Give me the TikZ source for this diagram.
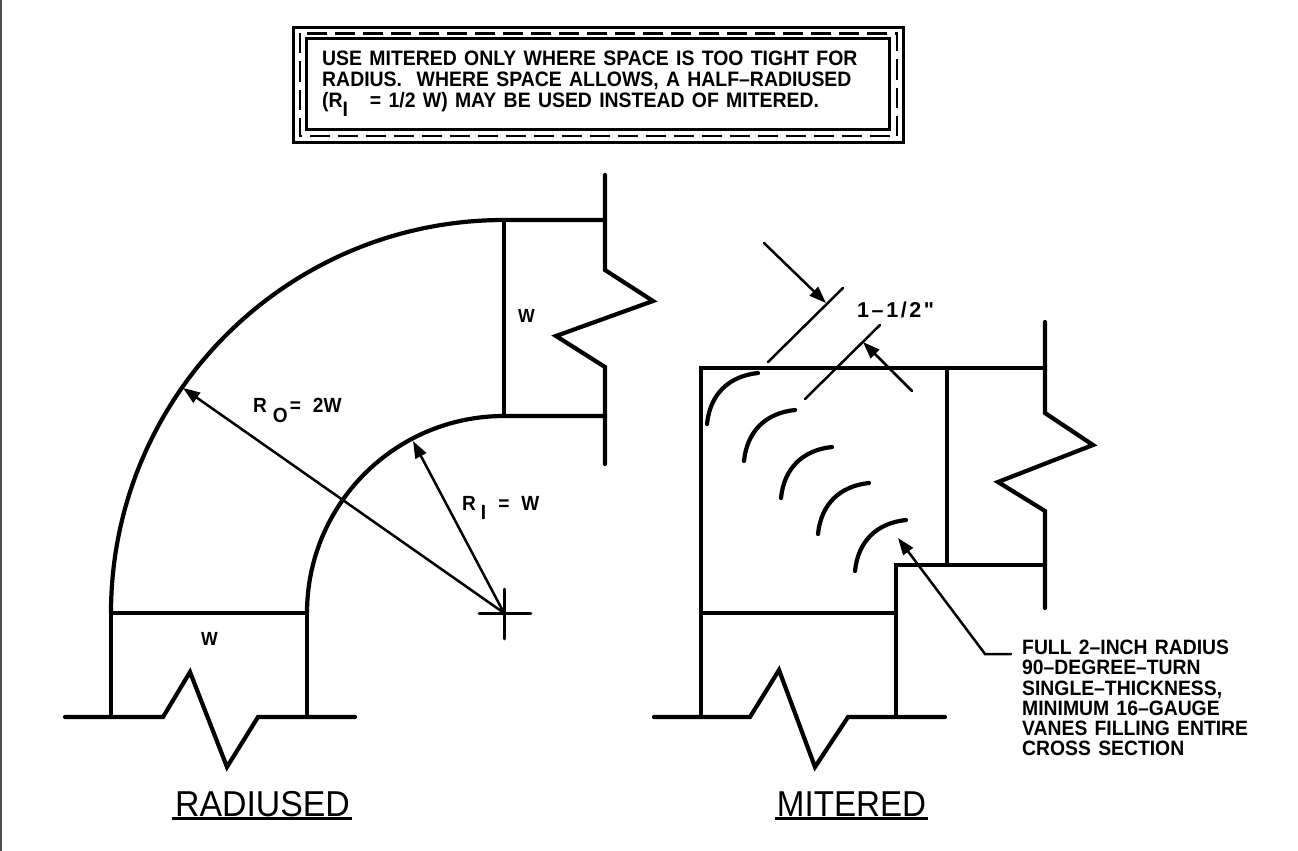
\documentclass[tikz,border=0pt]{standalone}
\usepackage{fontspec}
\setmainfont{Liberation Sans}
\newfontfamily\cadfont[UprightFont={* Bold},WordSpace=1.35,FakeStretch=0.93]{Liberation Sans}
\newfontfamily\cadwide[UprightFont={* Bold},LetterSpace=12]{Liberation Sans}
\newfontfamily\cadtitleA[FakeStretch=0.94]{Liberation Sans}
\newfontfamily\cadtitleB[FakeStretch=0.92]{Liberation Sans}
\usetikzlibrary{arrows.meta}
\tikzset{
  heavy/.style={line width=4.2pt,line cap=round,line join=miter},
  thin line/.style={line width=2.5pt,line cap=round},
  dim arrow/.style={thin line,-{Triangle[length=17pt,width=12pt]}},
  frame/.style={line width=3pt},
  label/.style={inner sep=0pt,align=left,font=\cadfont\fontsize{20.8}{20.2}\selectfont},
  small label/.style={inner sep=0pt,anchor=base west,font=\cadfont\fontsize{20.5}{20}\selectfont},
  title/.style={inner sep=0pt,anchor=base}
}
\newcommand{\subI}{\raisebox{-9pt}{I}}
\begin{document}
\begin{tikzpicture}[x=1pt,y=-1pt]
\useasboundingbox (0,0) rectangle (1298,851);
\draw[line width=2pt,black!70] (1,0) -- (1,851);
% note box
\draw[frame] (293,27.5) rectangle (903.5,142.5);
\draw[line width=2.6pt,dash pattern=on 20pt off 8pt] (300,33.5) rectangle (897,136);
\draw[frame] (306,39) rectangle (889,129);
\node[label,anchor=north west,font=\cadfont\fontsize{20.9}{20.8}\selectfont] (note) at (322,51)
  {USE MITERED ONLY WHERE SPACE IS TOO TIGHT FOR\\
   RADIUS.\ \ WHERE SPACE ALLOWS, A HALF–RADIUSED\\
   (R\subI\ \ \ = 1/2 W) MAY BE USED INSTEAD OF MITERED.};
% radiused
\coordinate (ctr) at (504,613);
\draw[heavy] (111,613) arc[start angle=180,end angle=270,radius=393] -- (605,220);
\draw[heavy] (307,613) arc[start angle=180,end angle=270,radius=197] -- (605,416);
\draw[heavy] (504,220) -- (504,416);
\draw[heavy] (111,613) -- (307,613);
\draw[heavy] (111,613) -- (111,717);
\draw[heavy] (307,613) -- (307,717);
\draw[heavy] (605,175) -- (605,270) -- (653,301) -- (556,336) -- (605,367) -- (605,464);
\draw[heavy] (65,717) -- (163,717) -- (190,672) -- (227,767) -- (258,717) -- (355,717);
\coordinate (outerhit) at (183,388);
\coordinate (innerhit) at (413,441);
\draw[dim arrow] (ctr) -- (outerhit);
\draw[dim arrow] (ctr) -- (innerhit);
\draw[thin line] (479,613.5) -- (531,613.5);
\draw[thin line] (504.5,589) -- (504.5,639);
\node[small label,font=\cadfont\fontsize{19}{20}\selectfont] (w1) at (518,322) {W};
\node[small label,font=\cadfont\fontsize{19}{20}\selectfont] (w2) at (201,645) {W};
\node[small label] (ro) at (253,412) {R\hspace{6pt}\raisebox{-10pt}{O}\hspace{2pt}=\hspace{12pt}2W};
\node[small label] (ri) at (462,510) {R\hspace{5pt}\subI\hspace{12pt}=\hspace{12pt}W};
% mitered
\draw[heavy] (701,717) -- (701,368) -- (1045,368);
\draw[heavy] (947,368) -- (947,565);
\draw[heavy] (896,717) -- (896,565) -- (1045,565);
\draw[heavy] (701,613) -- (896,613);
\draw[heavy] (1045,322) -- (1045,413) -- (1093,445) -- (998,482) -- (1045,511) -- (1045,608);
\draw[heavy] (654,717) -- (750,717) -- (779,670) -- (815,767) -- (848,717) -- (945,717);
\foreach \x/\y in {707/424,744/461,781/498,818/534,855/571}
  \draw[line width=4.2pt,line cap=round] (\x,\y) .. controls +(3,-30) and +(-29,3) .. +(51,-51);
\draw[thin line] (768,362) -- (843,288);
\draw[thin line] (805,399) -- (880,325);
\coordinate (a1s) at (764,243); \coordinate (a1e) at (826,303);
\coordinate (a2s) at (912,391); \coordinate (a2e) at (863,342);
\draw[dim arrow] (a1s) -- (a1e);
\draw[dim arrow] (a2s) -- (a2e);
\node[small label,font=\cadwide\fontsize{21.5}{20}\selectfont] (dimtxt) at (857,317) {1–1/2"};
\coordinate (lt) at (898,538); \coordinate (le) at (985,654); \coordinate (lf) at (1011,654);
\draw[dim arrow] (lf) -- (le) -- (lt);
\node[label,anchor=north west] (vanes) at (1022,640)
  {FULL 2–INCH RADIUS\\90–DEGREE–TURN\\SINGLE–THICKNESS,\\MINIMUM 16–GAUGE\\VANES FILLING ENTIRE\\CROSS SECTION};
% titles
\node[title,font=\cadtitleA\fontsize{36}{36}\selectfont] (t1) at (262.5,816) {RADIUSED};
\draw[line width=3pt] (172,818) -- (352,818);
\node[title,font=\cadtitleB\fontsize{36}{36}\selectfont] (t2) at (851.5,816) {MITERED};
\draw[line width=3pt] (775,818) -- (928,818);
\end{tikzpicture}
\end{document}
